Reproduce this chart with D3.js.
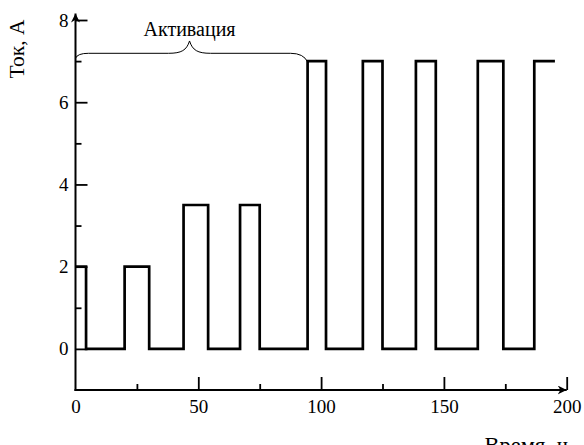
<!DOCTYPE html>
<html>
<head>
<meta charset="utf-8">
<script src="https://cdn.jsdelivr.net/npm/d3@7"></script>
<style>
  html, body { margin: 0; padding: 0; background: #fff; }
  svg { display: block; }
  svg text { font-family: "Liberation Serif", "Times New Roman", Tinos, Times, "DejaVu Serif", "Noto Serif", serif; fill: #000; }
</style>
</head>
<body>
<svg id="chart" width="584" height="445"></svg>
<script>
// ---- data ----
const stepTimes  = [0, 4.3, 20, 30, 44, 54, 67, 75, 94.5, 102, 117, 125, 138.6, 146.7, 163.8, 174.2, 186.8, 195.2];
const stepValues = [2, 0,   2,  0,  3.5, 0, 3.5, 0,  7,   0,   7,   0,   7,     0,     7,     0,     7,     7];
const xMajorTicks = [50, 100, 150, 200];
const xMinorTicks = [25, 75, 125, 175];
const yMajorTicks = [0, 2, 4, 6, 8];
const yMinorTicks = [1, 3, 5, 7];
const xLabel = "Время, ч";
const yLabel = "Ток, А";
const braceLabel = "Активация";
const braceRange = [0, 94.5];

const FONT = '"Liberation Serif", "Times New Roman", Tinos, Times, "DejaVu Serif", "Noto Serif", serif';

// ---- layout ----
const svg = d3.select("#chart");
const x = d3.scaleLinear().domain([0, 200]).range([75.5, 566.7]);
const y = d3.scaleLinear().domain([-1, 8]).range([390, 20]);

// arrow marker
svg.append("defs").append("marker")
  .attr("id", "arrow")
  .attr("viewBox", "0 0 10 10")
  .attr("refX", 10).attr("refY", 5)
  .attr("markerWidth", 9).attr("markerHeight", 9)
  .attr("markerUnits", "userSpaceOnUse")
  .attr("orient", "auto")
  .append("path")
  .attr("d", "M0,0 L10,5 L0,10 L3,5 Z")
  .attr("fill", "#000");

// x axis
const gx = svg.append("g").attr("transform", `translate(0,${y(-1)})`);
gx.call(d3.axisBottom(x).tickValues(xMajorTicks).tickSizeInner(-13).tickSizeOuter(0).tickPadding(10).tickFormat(d3.format("d")));
gx.append("g").call(d3.axisBottom(x).tickValues(xMinorTicks).tickSizeInner(-6).tickSizeOuter(0).tickFormat(""));
gx.append("g").call(d3.axisBottom(x).tickValues([0]).tickSize(0).tickPadding(10).tickFormat(d3.format("d")));
gx.selectAll(".domain").remove();
gx.attr("font-family", FONT);
gx.selectAll("g").attr("font-family", FONT);
gx.selectAll("line").attr("stroke", "#000").attr("stroke-width", 1.8);
gx.selectAll("text").attr("font-size", 19).attr("font-family", FONT).attr("dy", "0.71em");

// y axis
const gy = svg.append("g").attr("transform", `translate(${x(0)},0)`);
gy.call(d3.axisLeft(y).tickValues(yMajorTicks).tickSizeInner(-12).tickSizeOuter(0).tickPadding(7).tickFormat(d3.format("d")));
gy.append("g").call(d3.axisLeft(y).tickValues(yMinorTicks).tickSizeInner(-6).tickSizeOuter(0).tickFormat(""));
gy.selectAll(".domain").remove();
gy.attr("font-family", FONT);
gy.selectAll("g").attr("font-family", FONT);
gy.selectAll("line").attr("stroke", "#000").attr("stroke-width", 1.8);
gy.selectAll("text").attr("font-size", 19).attr("font-family", FONT);

// axis lines with arrows
svg.append("line")
  .attr("x1", x(0) - 1).attr("y1", y(-1)).attr("x2", x(200)).attr("y2", y(-1))
  .attr("stroke", "#000").attr("stroke-width", 2).attr("marker-end", "url(#arrow)");
svg.append("line")
  .attr("x1", x(0)).attr("y1", y(-1) + 1).attr("x2", x(0)).attr("y2", y(8) - 6.5)
  .attr("stroke", "#000").attr("stroke-width", 2).attr("marker-end", "url(#arrow)");

// waveform
const pts = stepTimes.map((t, i) => [t, stepValues[i]]);
svg.append("path")
  .datum(pts)
  .attr("fill", "none")
  .attr("stroke", "#000")
  .attr("stroke-width", 2.7)
  .attr("stroke-linejoin", "miter")
  .attr("d", d3.line().x(d => x(d[0])).y(d => y(d[1])).curve(d3.curveStepAfter));

// brace
const bx0 = x(braceRange[0]), bx1 = x(braceRange[1]);
const bm = (bx0 + bx1) / 2 - 2;
const yl = y(7.07), yh = y(7.19), yp = y(7.49), yr = y(6.98);
const bp = d3.path();
bp.moveTo(bx0, yl);
bp.quadraticCurveTo(bx0 + 2, yh, bx0 + 13, yh);
bp.lineTo(bm - 21, yh);
bp.bezierCurveTo(bm - 8, yh, bm - 3, yh - 3, bm, yp);
bp.bezierCurveTo(bm + 3, yh - 3, bm + 8, yh, bm + 21, yh);
bp.lineTo(bx1 - 17, yh);
bp.quadraticCurveTo(bx1 - 4, yh, bx1, yr);
svg.append("path").attr("d", bp.toString()).attr("fill", "none").attr("stroke", "#000").attr("stroke-width", 1);

svg.append("text")
  .attr("x", bm).attr("y", 36)
  .attr("text-anchor", "middle")
  .attr("font-family", FONT)
  .attr("font-size", 20)
  .text(braceLabel);

// axis titles
svg.append("text")
  .attr("transform", `translate(24,49) rotate(-90)`)
  .attr("text-anchor", "middle")
  .attr("font-family", FONT)
  .attr("font-size", 21.5)
  .text(yLabel);

svg.append("text")
  .attr("x", 568).attr("y", 452.5)
  .attr("text-anchor", "end")
  .attr("font-family", FONT)
  .attr("font-size", 22.5)
  .text(xLabel);
</script>
</body>
</html>
